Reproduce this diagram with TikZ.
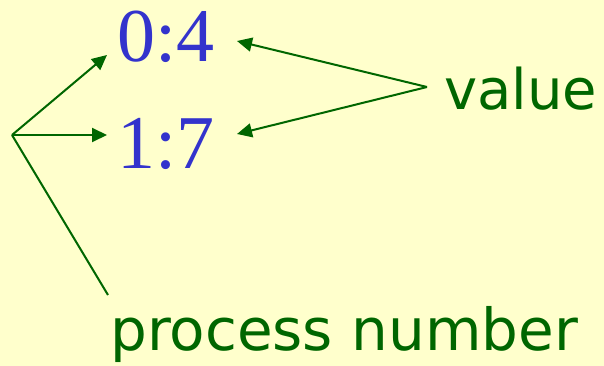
\documentclass[tikz,border=0pt]{standalone}
\usepackage{fontspec}
\setmainfont{Liberation Serif}
\newfontfamily\labelfont{DejaVu Sans}
\usetikzlibrary{arrows.meta}
\definecolor{bgyellow}{HTML}{FFFFCC}
\definecolor{numblue}{HTML}{3333CC}
\definecolor{labgreen}{HTML}{006600}
\tikzset{
  numtext/.style={inner sep=0pt, anchor=base west, text=numblue, font=\fontsize{76}{76}\selectfont},
  labtext/.style={inner sep=0pt, anchor=base west, text=labgreen, font=\labelfont\fontsize{56}{56}\selectfont},
  conn/.style={draw=labgreen, line width=2pt},
  arr/.style={conn, -{Triangle[length=15pt,width=14pt]}}
}
\begin{document}
\begin{tikzpicture}[x=1pt,y=-1pt]
  \fill[bgyellow] (0,0) rectangle (604,366);
  \useasboundingbox (0,0) rectangle (604,366);
  \node[numtext] (n04) at (117,62) {0:4};
  \node[numtext] (n17) at (117,168) {1:7};
  \node[labtext] (val) at (444,110) {value};
  \node[labtext, font=\labelfont\fontsize{58}{58}\selectfont] (proc) at (110,350) {process number};
  \coordinate (junc) at (12,135);
  \coordinate (t04) at (107,55);
  \coordinate (t17) at (107,135);
  \coordinate (pend) at (108,295);
  \coordinate (vstart) at (427,87);
  \coordinate (v04) at (237,41);
  \coordinate (v17) at (237,134);
  \draw[arr] (junc) -- (t04);
  \draw[arr] (junc) -- (t17);
  \draw[conn] (junc) -- (pend);
  \draw[arr] (vstart) -- (v04);
  \draw[arr] (vstart) -- (v17);
\end{tikzpicture}
\end{document}
